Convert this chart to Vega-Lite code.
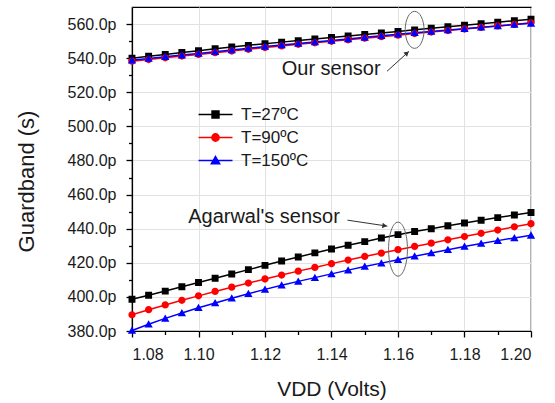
{
  "$schema": "https://vega.github.io/schema/vega-lite/v6.json",
  "width": 399,
  "height": 324,
  "autosize": {"type": "none"},
  "padding": {"left": 132, "top": 7, "right": 24, "bottom": 72},
  "background": "white",
  "config": {
    "font": "Liberation Sans",
    "view": {"stroke": "black", "strokeWidth": 1.2},
    "axis": {
      "domainColor": "black", "domainWidth": 1.2, "ticks": true, "tickColor": "#000000", "tickOpacity": 1, "tickWidth": 1.3,
      "labelColor": "#1a1a1a", "labelFont": "Liberation Sans", "labelFontSize": 16,
      "titleFont": "Liberation Sans", "titleFontSize": 21, "titleFontWeight": "normal", "titleColor": "#1a1a1a",
      "gridColor": "#e2e2e2", "gridWidth": 1
    },
    "legend": {
      "title": null, "orient": "none", "legendX": 75, "legendY": 99, "padding": 0,
      "labelFontSize": 17, "labelFont": "Liberation Sans", "labelColor": "#1a1a1a",
      "symbolSize": 48, "labelOffset": 17, "rowPadding": 5, "symbolOpacity": 1, "symbolStrokeWidth": 1.5
    }
  },
  "datasets": {
    "curves": [
      {"v":1.080,"g":540.0,"T":"T=27ºC","s":"Our"},{"v":1.085,"g":541.1,"T":"T=27ºC","s":"Our"},{"v":1.090,"g":542.2,"T":"T=27ºC","s":"Our"},{"v":1.095,"g":543.3,"T":"T=27ºC","s":"Our"},{"v":1.100,"g":544.4,"T":"T=27ºC","s":"Our"},{"v":1.105,"g":545.5,"T":"T=27ºC","s":"Our"},{"v":1.110,"g":546.5,"T":"T=27ºC","s":"Our"},{"v":1.115,"g":547.5,"T":"T=27ºC","s":"Our"},{"v":1.120,"g":548.5,"T":"T=27ºC","s":"Our"},{"v":1.125,"g":549.4,"T":"T=27ºC","s":"Our"},{"v":1.130,"g":550.3,"T":"T=27ºC","s":"Our"},{"v":1.135,"g":551.2,"T":"T=27ºC","s":"Our"},{"v":1.140,"g":552.1,"T":"T=27ºC","s":"Our"},{"v":1.145,"g":553.0,"T":"T=27ºC","s":"Our"},{"v":1.150,"g":553.9,"T":"T=27ºC","s":"Our"},{"v":1.155,"g":554.8,"T":"T=27ºC","s":"Our"},{"v":1.160,"g":555.7,"T":"T=27ºC","s":"Our"},{"v":1.165,"g":556.6,"T":"T=27ºC","s":"Our"},{"v":1.170,"g":557.5,"T":"T=27ºC","s":"Our"},{"v":1.175,"g":558.4,"T":"T=27ºC","s":"Our"},{"v":1.180,"g":559.3,"T":"T=27ºC","s":"Our"},{"v":1.185,"g":560.2,"T":"T=27ºC","s":"Our"},{"v":1.190,"g":561.1,"T":"T=27ºC","s":"Our"},{"v":1.195,"g":562.0,"T":"T=27ºC","s":"Our"},{"v":1.200,"g":562.8,"T":"T=27ºC","s":"Our"},
      {"v":1.080,"g":398.6,"T":"T=27ºC","s":"Agarwal"},{"v":1.085,"g":401.0,"T":"T=27ºC","s":"Agarwal"},{"v":1.090,"g":403.4,"T":"T=27ºC","s":"Agarwal"},{"v":1.095,"g":405.9,"T":"T=27ºC","s":"Agarwal"},{"v":1.100,"g":408.4,"T":"T=27ºC","s":"Agarwal"},{"v":1.105,"g":410.9,"T":"T=27ºC","s":"Agarwal"},{"v":1.110,"g":413.4,"T":"T=27ºC","s":"Agarwal"},{"v":1.115,"g":416.0,"T":"T=27ºC","s":"Agarwal"},{"v":1.120,"g":418.5,"T":"T=27ºC","s":"Agarwal"},{"v":1.125,"g":421.0,"T":"T=27ºC","s":"Agarwal"},{"v":1.130,"g":423.4,"T":"T=27ºC","s":"Agarwal"},{"v":1.135,"g":425.8,"T":"T=27ºC","s":"Agarwal"},{"v":1.140,"g":428.1,"T":"T=27ºC","s":"Agarwal"},{"v":1.145,"g":430.3,"T":"T=27ºC","s":"Agarwal"},{"v":1.150,"g":432.4,"T":"T=27ºC","s":"Agarwal"},{"v":1.155,"g":434.5,"T":"T=27ºC","s":"Agarwal"},{"v":1.160,"g":436.5,"T":"T=27ºC","s":"Agarwal"},{"v":1.165,"g":438.3,"T":"T=27ºC","s":"Agarwal"},{"v":1.170,"g":440.0,"T":"T=27ºC","s":"Agarwal"},{"v":1.175,"g":441.7,"T":"T=27ºC","s":"Agarwal"},{"v":1.180,"g":443.3,"T":"T=27ºC","s":"Agarwal"},{"v":1.185,"g":444.9,"T":"T=27ºC","s":"Agarwal"},{"v":1.190,"g":446.5,"T":"T=27ºC","s":"Agarwal"},{"v":1.195,"g":448.0,"T":"T=27ºC","s":"Agarwal"},{"v":1.200,"g":449.5,"T":"T=27ºC","s":"Agarwal"},
      {"v":1.080,"g":538.2,"T":"T=90ºC","s":"Our"},{"v":1.085,"g":539.2,"T":"T=90ºC","s":"Our"},{"v":1.090,"g":540.2,"T":"T=90ºC","s":"Our"},{"v":1.095,"g":541.2,"T":"T=90ºC","s":"Our"},{"v":1.100,"g":542.2,"T":"T=90ºC","s":"Our"},{"v":1.105,"g":543.2,"T":"T=90ºC","s":"Our"},{"v":1.110,"g":544.2,"T":"T=90ºC","s":"Our"},{"v":1.115,"g":545.2,"T":"T=90ºC","s":"Our"},{"v":1.120,"g":546.2,"T":"T=90ºC","s":"Our"},{"v":1.125,"g":547.2,"T":"T=90ºC","s":"Our"},{"v":1.130,"g":548.1,"T":"T=90ºC","s":"Our"},{"v":1.135,"g":549.0,"T":"T=90ºC","s":"Our"},{"v":1.140,"g":549.9,"T":"T=90ºC","s":"Our"},{"v":1.145,"g":550.8,"T":"T=90ºC","s":"Our"},{"v":1.150,"g":551.7,"T":"T=90ºC","s":"Our"},{"v":1.155,"g":552.6,"T":"T=90ºC","s":"Our"},{"v":1.160,"g":553.5,"T":"T=90ºC","s":"Our"},{"v":1.165,"g":554.4,"T":"T=90ºC","s":"Our"},{"v":1.170,"g":555.3,"T":"T=90ºC","s":"Our"},{"v":1.175,"g":556.2,"T":"T=90ºC","s":"Our"},{"v":1.180,"g":557.1,"T":"T=90ºC","s":"Our"},{"v":1.185,"g":558.0,"T":"T=90ºC","s":"Our"},{"v":1.190,"g":558.9,"T":"T=90ºC","s":"Our"},{"v":1.195,"g":559.8,"T":"T=90ºC","s":"Our"},{"v":1.200,"g":560.7,"T":"T=90ºC","s":"Our"},
      {"v":1.080,"g":389.5,"T":"T=90ºC","s":"Agarwal"},{"v":1.085,"g":392.5,"T":"T=90ºC","s":"Agarwal"},{"v":1.090,"g":395.3,"T":"T=90ºC","s":"Agarwal"},{"v":1.095,"g":398.0,"T":"T=90ºC","s":"Agarwal"},{"v":1.100,"g":400.6,"T":"T=90ºC","s":"Agarwal"},{"v":1.105,"g":403.2,"T":"T=90ºC","s":"Agarwal"},{"v":1.110,"g":405.7,"T":"T=90ºC","s":"Agarwal"},{"v":1.115,"g":408.1,"T":"T=90ºC","s":"Agarwal"},{"v":1.120,"g":410.5,"T":"T=90ºC","s":"Agarwal"},{"v":1.125,"g":412.8,"T":"T=90ºC","s":"Agarwal"},{"v":1.130,"g":415.1,"T":"T=90ºC","s":"Agarwal"},{"v":1.135,"g":417.3,"T":"T=90ºC","s":"Agarwal"},{"v":1.140,"g":419.5,"T":"T=90ºC","s":"Agarwal"},{"v":1.145,"g":421.6,"T":"T=90ºC","s":"Agarwal"},{"v":1.150,"g":423.7,"T":"T=90ºC","s":"Agarwal"},{"v":1.155,"g":425.7,"T":"T=90ºC","s":"Agarwal"},{"v":1.160,"g":427.7,"T":"T=90ºC","s":"Agarwal"},{"v":1.165,"g":429.6,"T":"T=90ºC","s":"Agarwal"},{"v":1.170,"g":431.5,"T":"T=90ºC","s":"Agarwal"},{"v":1.175,"g":433.5,"T":"T=90ºC","s":"Agarwal"},{"v":1.180,"g":435.4,"T":"T=90ºC","s":"Agarwal"},{"v":1.185,"g":437.3,"T":"T=90ºC","s":"Agarwal"},{"v":1.190,"g":439.2,"T":"T=90ºC","s":"Agarwal"},{"v":1.195,"g":441.1,"T":"T=90ºC","s":"Agarwal"},{"v":1.200,"g":442.9,"T":"T=90ºC","s":"Agarwal"},
      {"v":1.080,"g":538.8,"T":"T=150ºC","s":"Our"},{"v":1.085,"g":539.8,"T":"T=150ºC","s":"Our"},{"v":1.090,"g":540.8,"T":"T=150ºC","s":"Our"},{"v":1.095,"g":541.8,"T":"T=150ºC","s":"Our"},{"v":1.100,"g":542.8,"T":"T=150ºC","s":"Our"},{"v":1.105,"g":543.8,"T":"T=150ºC","s":"Our"},{"v":1.110,"g":544.8,"T":"T=150ºC","s":"Our"},{"v":1.115,"g":545.8,"T":"T=150ºC","s":"Our"},{"v":1.120,"g":546.8,"T":"T=150ºC","s":"Our"},{"v":1.125,"g":547.7,"T":"T=150ºC","s":"Our"},{"v":1.130,"g":548.6,"T":"T=150ºC","s":"Our"},{"v":1.135,"g":549.5,"T":"T=150ºC","s":"Our"},{"v":1.140,"g":550.4,"T":"T=150ºC","s":"Our"},{"v":1.145,"g":551.3,"T":"T=150ºC","s":"Our"},{"v":1.150,"g":552.2,"T":"T=150ºC","s":"Our"},{"v":1.155,"g":553.1,"T":"T=150ºC","s":"Our"},{"v":1.160,"g":554.0,"T":"T=150ºC","s":"Our"},{"v":1.165,"g":554.9,"T":"T=150ºC","s":"Our"},{"v":1.170,"g":555.7,"T":"T=150ºC","s":"Our"},{"v":1.175,"g":556.5,"T":"T=150ºC","s":"Our"},{"v":1.180,"g":557.3,"T":"T=150ºC","s":"Our"},{"v":1.185,"g":558.1,"T":"T=150ºC","s":"Our"},{"v":1.190,"g":558.9,"T":"T=150ºC","s":"Our"},{"v":1.195,"g":559.7,"T":"T=150ºC","s":"Our"},{"v":1.200,"g":560.4,"T":"T=150ºC","s":"Our"},
      {"v":1.080,"g":380.3,"T":"T=150ºC","s":"Agarwal"},{"v":1.085,"g":384.0,"T":"T=150ºC","s":"Agarwal"},{"v":1.090,"g":387.4,"T":"T=150ºC","s":"Agarwal"},{"v":1.095,"g":390.6,"T":"T=150ºC","s":"Agarwal"},{"v":1.100,"g":393.6,"T":"T=150ºC","s":"Agarwal"},{"v":1.105,"g":396.4,"T":"T=150ºC","s":"Agarwal"},{"v":1.110,"g":399.2,"T":"T=150ºC","s":"Agarwal"},{"v":1.115,"g":401.8,"T":"T=150ºC","s":"Agarwal"},{"v":1.120,"g":404.4,"T":"T=150ºC","s":"Agarwal"},{"v":1.125,"g":406.8,"T":"T=150ºC","s":"Agarwal"},{"v":1.130,"g":409.1,"T":"T=150ºC","s":"Agarwal"},{"v":1.135,"g":411.3,"T":"T=150ºC","s":"Agarwal"},{"v":1.140,"g":413.5,"T":"T=150ºC","s":"Agarwal"},{"v":1.145,"g":415.7,"T":"T=150ºC","s":"Agarwal"},{"v":1.150,"g":417.8,"T":"T=150ºC","s":"Agarwal"},{"v":1.155,"g":419.8,"T":"T=150ºC","s":"Agarwal"},{"v":1.160,"g":421.8,"T":"T=150ºC","s":"Agarwal"},{"v":1.165,"g":423.8,"T":"T=150ºC","s":"Agarwal"},{"v":1.170,"g":425.8,"T":"T=150ºC","s":"Agarwal"},{"v":1.175,"g":427.7,"T":"T=150ºC","s":"Agarwal"},{"v":1.180,"g":429.6,"T":"T=150ºC","s":"Agarwal"},{"v":1.185,"g":431.3,"T":"T=150ºC","s":"Agarwal"},{"v":1.190,"g":433.0,"T":"T=150ºC","s":"Agarwal"},{"v":1.195,"g":434.6,"T":"T=150ºC","s":"Agarwal"},{"v":1.200,"g":436.1,"T":"T=150ºC","s":"Agarwal"}
    ]
  },
  "resolve": {"axis": {"x": "independent", "y": "independent"}},
  "layer": [
    {
      "data": {"name": "curves"},
      "mark": {"type": "line", "strokeWidth": 1.5, "clip": false},
      "encoding": {
        "x": {"field": "v", "type": "quantitative",
              "scale": {"domain": [1.08, 1.2], "nice": false, "zero": false},
              "axis": {"orient": "bottom", "values": [1.08, 1.1, 1.12, 1.14, 1.16, 1.18, 1.2], "format": ".2f",
                       "ticks": true, "tickSize": 6, "tickColor": "#000000", "tickWidth": 1.3, "labelPadding": 9, "grid": true, "title": "VDD (Volts)",
                       "titleX": 199.5, "titleY": 64, "titleBaseline": "alphabetic", "titleAlign": "center"}},
        "y": {"field": "g", "type": "quantitative",
              "scale": {"domain": [380, 570], "nice": false, "zero": false},
              "axis": {"orient": "left", "values": [380, 400, 420, 440, 460, 480, 500, 520, 540, 560],
                       "labelExpr": "format(datum.value, '.1f') + 'p'", "ticks": true, "tickSize": 6, "tickColor": "#000000", "tickWidth": 1.3, "labelPadding": 10,
                       "grid": true, "title": "Guardband (s)", "titleFontSize": 22, "titleX": -106, "titleY": 174,
                       "titleAngle": -90, "titleBaseline": "middle", "titleAlign": "center"}},
        "color": {"field": "T", "type": "nominal",
                  "scale": {"domain": ["T=27ºC", "T=90ºC", "T=150ºC"], "range": ["#000000", "#ff0000", "#0000ff"]}},
        "detail": {"field": "s"}
      }
    },
    {
      "data": {"name": "curves"},
      "mark": {"type": "point", "filled": true, "opacity": 1, "size": 48, "clip": false},
      "encoding": {
        "x": {"field": "v", "type": "quantitative", "axis": null},
        "y": {"field": "g", "type": "quantitative", "axis": null},
        "color": {"field": "T", "type": "nominal",
                  "scale": {"domain": ["T=27ºC", "T=90ºC", "T=150ºC"], "range": ["#000000", "#ff0000", "#0000ff"]}},
        "shape": {"field": "T", "type": "nominal",
                  "scale": {"domain": ["T=27ºC", "T=90ºC", "T=150ºC"],
                            "range": ["M -4.9 0 H 4.9 M -1 -1 H 1 V 1 H -1 Z",
                                      "M -4.9 0 H 4.9 M -1.05 0 A 1.05 1.05 0 1 0 1.05 0 A 1.05 1.05 0 1 0 -1.05 0 Z",
                                      "M -4.9 0 H 4.9 M 0 -1.15 L 1.2 0.95 L -1.2 0.95 Z"]}}
      }
    },
    {
      "data": {"values": [{"x": 1.09}, {"x": 1.11}, {"x": 1.13}, {"x": 1.15}, {"x": 1.17}, {"x": 1.19}]},
      "mark": {"type": "tick", "opacity": 0},
      "encoding": {
        "x": {"field": "x", "type": "quantitative",
              "axis": {"orient": "bottom", "values": [1.09, 1.11, 1.13, 1.15, 1.17, 1.19], "labels": false,
                       "domain": false, "grid": false, "ticks": true, "tickColor": "#000000", "tickWidth": 1.3, "tickSize": 3.5, "title": null}},
        "y": {"datum": 390, "type": "quantitative",
              "axis": {"orient": "left", "values": [390, 410, 430, 450, 470, 490, 510, 530, 550], "labels": false,
                       "domain": false, "grid": false, "ticks": true, "tickColor": "#000000", "tickWidth": 1.3, "tickSize": 3.5, "title": null}}
      }
    },
    {
      "data": {"values": [{"x": 1.165, "y": 556.6}]},
      "mark": {"type": "point", "filled": false, "stroke": "#666666", "strokeWidth": 1, "opacity": 1, "size": 1369,
               "shape": "M 0 -1 A 0.51 1 0 1 1 0 1 A 0.51 1 0 1 1 0 -1 Z"},
      "encoding": {"x": {"field": "x", "type": "quantitative", "axis": null}, "y": {"field": "y", "type": "quantitative", "axis": null}}
    },
    {
      "data": {"values": [{"x": 1.16, "y": 428.0}]},
      "mark": {"type": "point", "filled": false, "stroke": "#666666", "strokeWidth": 1, "opacity": 1, "size": 2916,
               "shape": "M 0 -1 A 0.35 1 0 1 1 0 1 A 0.35 1 0 1 1 0 -1 Z"},
      "encoding": {"x": {"field": "x", "type": "quantitative", "axis": null}, "y": {"field": "y", "type": "quantitative", "axis": null}}
    },
    {
      "data": {"values": [{"x": 1.1567, "y": 532.3, "x2": 1.1633, "y2": 544.0}, {"x": 1.1448, "y": 445.0, "x2": 1.1568, "y2": 441.5}]},
      "mark": {"type": "rule", "stroke": "#333333", "strokeWidth": 1},
      "encoding": {"x": {"field": "x", "type": "quantitative", "axis": null}, "y": {"field": "y", "type": "quantitative", "axis": null},
                   "x2": {"field": "x2"}, "y2": {"field": "y2"}}
    },
    {
      "data": {"values": [{"x": 1.1627, "y": 543.0}]},
      "mark": {"type": "point", "shape": "triangle-up", "filled": true, "color": "#333333", "opacity": 1, "size": 30, "angle": 48},
      "encoding": {"x": {"field": "x", "type": "quantitative", "axis": null}, "y": {"field": "y", "type": "quantitative", "axis": null}}
    },
    {
      "data": {"values": [{"x": 1.1560, "y": 441.7}]},
      "mark": {"type": "point", "shape": "triangle-up", "filled": true, "color": "#333333", "opacity": 1, "size": 30, "angle": 98},
      "encoding": {"x": {"field": "x", "type": "quantitative", "axis": null}, "y": {"field": "y", "type": "quantitative", "axis": null}}
    },
    {
      "data": {"values": [{"x": 1.1399, "y": 533.8, "t": "Our sensor"}, {"x": 1.1197, "y": 446.9, "t": "Agarwal's sensor"}]},
      "mark": {"type": "text", "font": "Liberation Sans", "fontSize": 20, "color": "#1a1a1a", "align": "center", "baseline": "middle"},
      "encoding": {"x": {"field": "x", "type": "quantitative", "axis": null}, "y": {"field": "y", "type": "quantitative", "axis": null},
                   "text": {"field": "t"}}
    }
  ]
}
